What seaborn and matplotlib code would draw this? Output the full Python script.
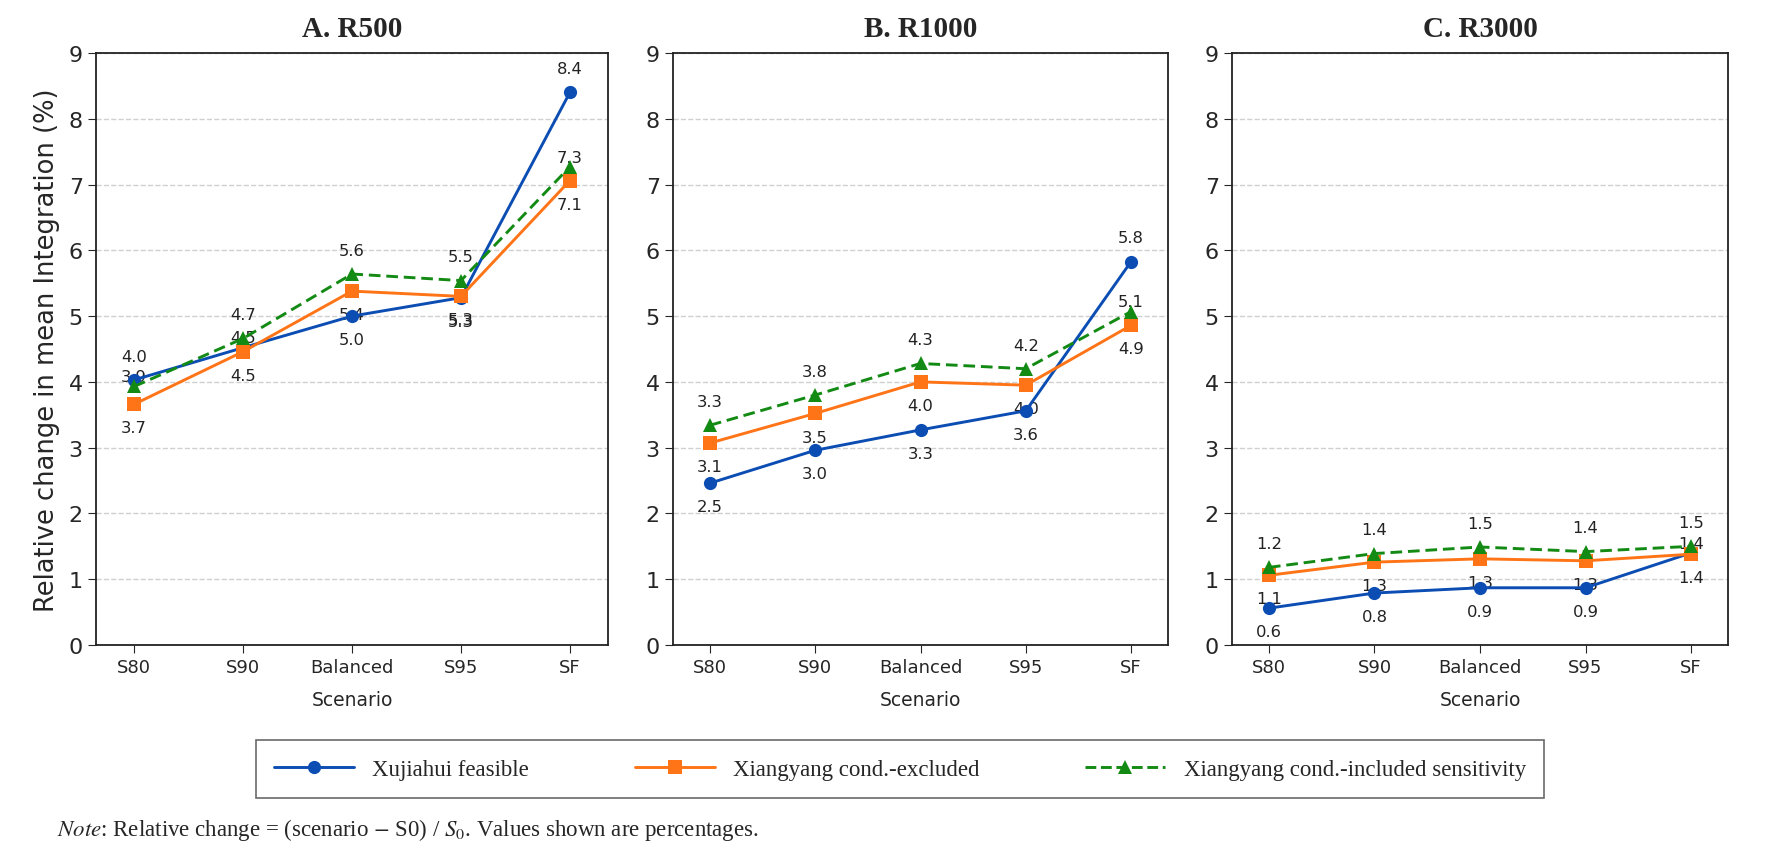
import pandas as pd
import matplotlib.pyplot as plt
import seaborn as sns
from matplotlib.lines import Line2D

scenarios = ["S80", "S90", "Balanced", "S95", "SF"]
panels = ["A. R500", "B. R1000", "C. R3000"]
series = ["Xujiahui feasible", "Xiangyang cond.-excluded", "Xiangyang cond.-included sensitivity"]

# relative change (%), one list per panel
xujiahui = {
    "A. R500": [4.03, 4.52, 5.00, 5.28, 8.40],
    "B. R1000": [2.46, 2.96, 3.27, 3.56, 5.83],
    "C. R3000": [0.56, 0.79, 0.87, 0.87, 1.40],
}
xiangyang_excl = {
    "A. R500": [3.66, 4.46, 5.38, 5.30, 7.06],
    "B. R1000": [3.07, 3.52, 4.00, 3.95, 4.86],
    "C. R3000": [1.06, 1.26, 1.31, 1.28, 1.38],
}
xiangyang_incl = {
    "A. R500": [3.93, 4.66, 5.64, 5.54, 7.27],
    "B. R1000": [3.34, 3.80, 4.28, 4.20, 5.07],
    "C. R3000": [1.18, 1.39, 1.49, 1.42, 1.50],
}

colors = {series[0]: "#0b4db3", series[1]: "#ff7417", series[2]: "#138a13"}
markers = {series[0]: "o", series[1]: "s", series[2]: "^"}
dashes = {series[0]: "", series[1]: "", series[2]: (4, 2)}

rows = []
for p in panels:
    for name, d in zip(series, [xujiahui, xiangyang_excl, xiangyang_incl]):
        for s, v in zip(scenarios, d[p]):
            rows.append({"panel": p, "series": name, "Scenario": s, "value": v})
df = pd.DataFrame(rows)

sns.set_style("ticks")
plt.rcParams["font.family"] = ["DejaVu Sans"]
plt.rcParams["mathtext.fontset"] = "stix"

fig = plt.figure(figsize=(17.68, 8.53), dpi=100)
W, H = 1768, 853
boxes = [(96, 608), (673, 1168), (1232, 1728)]
top_px, bot_px = 54, 646

for i, p in enumerate(panels):
    x0, x1 = boxes[i]
    ax = fig.add_axes([x0 / W, 1 - bot_px / H, (x1 - x0) / W, (bot_px - top_px) / H])
    sub = df[df["panel"] == p]
    sns.lineplot(data=sub, x="Scenario", y="value", hue="series", style="series",
                 palette=colors, markers=markers, dashes=dashes, markersize=9.5,
                 linewidth=2.1, markeredgewidth=0, legend=False, ax=ax, sort=False)

    # value labels: top series above, bottom below, middle one tucked just above its marker
    xs = ax.get_xticks()
    for j in range(len(scenarios)):
        b = xujiahui[p][j]
        o = xiangyang_excl[p][j]
        g = xiangyang_incl[p][j]
        if b > max(o, g):
            b_off = 17
        elif b <= o:
            b_off = -17
        else:
            b_off = 7
        g_off = 17 if g >= b else 7
        for v, off in [(g, g_off), (o, -17), (b, b_off)]:
            ax.annotate(f"{v:.1f}", (xs[j], v), textcoords="offset points",
                        xytext=(0, off), ha="center", va="center", fontsize=11.8,
                        color="#222222", zorder=1)

    ax.set_ylim(0, 9)
    ax.set_xlim(-0.35, 4.35)
    ax.set_yticks(range(0, 10))
    ax.yaxis.grid(True, linestyle="--", color="#d0d0d0", linewidth=1)
    ax.set_axisbelow(True)
    for sp in ax.spines.values():
        sp.set_color("#222222")
        sp.set_linewidth(1.3)
    ax.tick_params(axis="y", labelsize=16, length=6)
    ax.tick_params(axis="x", labelsize=13, length=6)
    ax.set_xlabel("Scenario", fontsize=13.5, labelpad=10)
    if i == 0:
        ax.set_ylabel("Relative change in mean Integration (%)", fontsize=18.5, labelpad=6)
    else:
        ax.set_ylabel("")
    ax.set_title(p, fontsize=21, fontweight="bold", family="Liberation Serif", pad=12)

handles = [Line2D([0], [0], color=colors[s], marker=markers[s], markersize=9.5,
                  markeredgewidth=0, linewidth=2.1,
                  linestyle="--" if s == series[2] else "-") for s in series]
leg = fig.legend(handles, series, loc="center", bbox_to_anchor=(0.509, 0.097), ncol=3,
                 frameon=True, fancybox=False, edgecolor="#444444",
                 prop={"family": "Liberation Serif", "size": 16.5},
                 handlelength=3.5, columnspacing=4.6, borderpad=0.8)
leg.get_frame().set_linewidth(1.2)

fig.text(57 / W, 0.027,
         r"$\it{Note}$: Relative change = (scenario $-$ S0) / $S_0$. Values shown are percentages.",
         fontsize=16.5, family="Liberation Serif", ha="left", va="center")

fig.savefig("out.png", dpi=100)
